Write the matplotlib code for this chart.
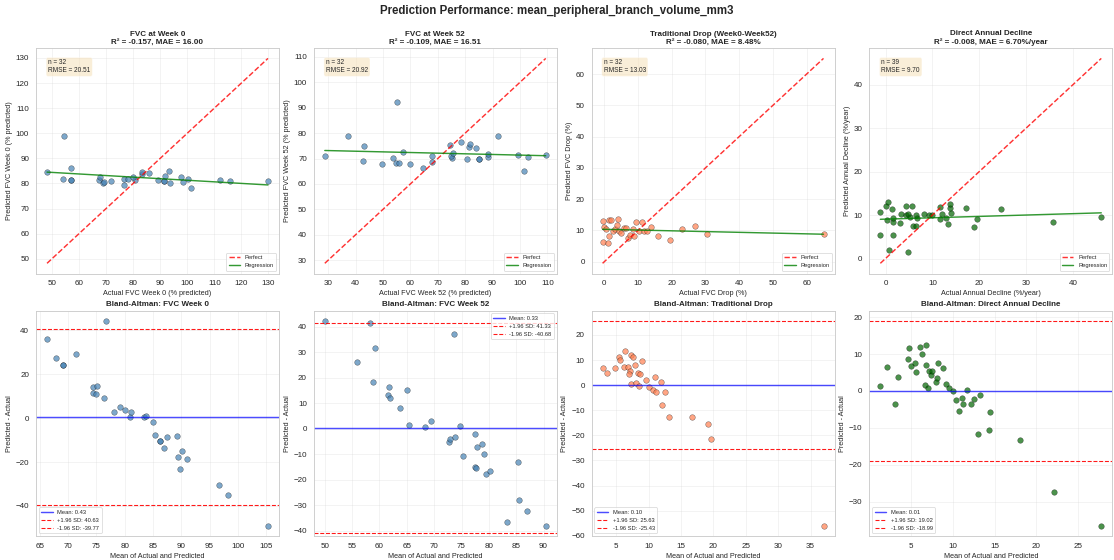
import numpy as np
import matplotlib
matplotlib.use('Agg')
import matplotlib.pyplot as plt
import seaborn as sns

# values
wk0_actual = [48.2, 54.0, 57.0, 57.0, 56.9, 54.5, 67.5, 67.8, 68.7, 69.4, 71.9, 76.8, 76.7, 78.2, 80.6, 79.8,
              83.2, 83.2, 85.8, 89.1, 91.4, 91.4, 91.8, 93.8, 93.3, 98.3, 97.5, 101.4, 100.3, 112.0, 115.7, 129.8]
wk0_pred = [84.4, 81.6, 81.4, 81.4, 86.1, 98.9, 81.5, 82.6, 80.3, 80.6, 80.9, 79.4, 81.7, 81.9, 81.2, 82.4,
            83.8, 84.4, 84.2, 81.5, 81.0, 81.0, 83.0, 80.2, 85.1, 80.7, 82.7, 78.2, 81.7, 81.4, 80.9, 80.8]

wk52_actual = [28.8, 37.4, 55.0, 42.7, 43.2, 49.8, 53.5, 54.8, 55.9, 57.4, 59.8, 64.6, 68.0, 68.0, 74.3, 75.2,
               74.8, 75.4, 78.4, 80.6, 85.0, 85.2, 81.4, 81.6, 84.0, 88.4, 88.5, 91.9, 99.4, 103.0, 101.6, 109.4]
wk52_pred = [71.2, 79.0, 92.4, 68.9, 75.0, 68.0, 70.1, 68.2, 68.1, 72.6, 67.8, 66.2, 68.8, 70.9, 75.3, 70.2,
             71.0, 72.2, 76.4, 70.0, 69.9, 70.0, 74.4, 75.8, 74.2, 70.6, 71.9, 78.7, 71.6, 70.8, 65.0, 71.4]

drop_actual = [-0.5, 1.2, 1.4, -0.2, 0.6, 2.6, -0.4, 3.3, 4.3, 4.9, 1.3, 2.0, 3.8, 7.1, 7.6, 8.7,
               5.9, 6.4, 4.1, 8.6, 10.4, 11.7, 9.4, 12.6, 11.2, 13.9, 16.0, 19.5, 23.0, 26.9, 30.4, 65.0]
drop_pred = [6.3, 6.1, 8.2, 11.1, 10.6, 9.8, 13.1, 10.5, 9.9, 9.2, 13.3, 13.2, 11.9, 7.6, 8.5, 8.2,
             10.8, 10.9, 13.8, 10.6, 9.8, 9.7, 12.6, 9.8, 12.6, 11.1, 8.1, 6.9, 10.4, 11.5, 9.0, 9.0]

annual_actual = [0.7, -1.1, 4.9, 1.6, 0.3, -1.1, 1.7, 1.7, 3.0, 0.1, 1.4, 0.6, 3.3, 5.8, 6.6, 4.4, 5.2, 4.8, 6.8,
                 6.4, 4.4, 5.7, 8.2, 9.2, 10.0, 11.6, 13.4, 12.0, 13.0, 11.6, 14.0, 13.7, 13.8, 18.8, 19.6,
                 17.2, 24.6, 35.8, 46.0]
annual_pred = [2.0, 5.3, 1.4, 5.4, 8.9, 10.6, 8.4, 9.3, 8.1, 12.1, 11.3, 13.0, 10.3, 7.5, 7.4, 9.9, 9.6, 10.2, 9.3,
               9.9, 12.1, 12.0, 10.2, 10.0, 10.0, 9.2, 8.0, 10.2, 9.4, 11.8, 10.4, 11.5, 12.6, 7.2, 9.0,
               11.6, 11.4, 8.4, 9.5]

r2 = [-0.157, -0.109, -0.080, -0.008]
mae = ['16.00', '16.51', '8.48%', '6.70%/year']
rmse = [20.51, 20.92, 13.03, 9.70]
ba_mean = [0.43, 0.33, 0.10, 0.01]
ba_upper = [40.63, 41.33, 25.63, 19.02]
ba_lower = [-39.77, -40.68, -25.43, -18.99]

titles = ['FVC at Week 0', 'FVC at Week 52', 'Traditional Drop (Week0-Week52)', 'Direct Annual Decline']
ba_titles = ['FVC Week 0', 'FVC Week 52', 'Traditional Drop', 'Direct Annual Decline']
xlabels = ['Actual FVC Week 0 (% predicted)', 'Actual FVC Week 52 (% predicted)',
           'Actual FVC Drop (%)', 'Actual Annual Decline (%/year)']
ylabels = ['Predicted FVC Week 0 (% predicted)', 'Predicted FVC Week 52 (% predicted)',
           'Predicted FVC Drop (%)', 'Predicted Annual Decline (%/year)']

actuals = [wk0_actual, wk52_actual, drop_actual, annual_actual]
preds = [wk0_pred, wk52_pred, drop_pred, annual_pred]
colors = ['steelblue', 'steelblue', 'coral', 'darkgreen']
ba_leg_loc = ['lower left', 'upper right', 'lower left', 'lower left']

sns.set_theme(style='whitegrid')
plt.rcParams['font.family'] = ['Liberation Sans', 'DejaVu Sans']

fig, axes = plt.subplots(2, 4, figsize=(1114 / 52, 560 / 52), dpi=52)
fig.subplots_adjust(left=0.0323, right=0.9985, top=0.914, bottom=0.043, wspace=0.143, hspace=0.164)

for i in range(4):
    a = np.array(actuals[i])
    p = np.array(preds[i])

    # predicted vs actual
    ax = axes[0, i]
    ax.scatter(a, p, s=60, alpha=0.7, color=colors[i], edgecolors='black', linewidth=0.5)
    lo = min(a.min(), p.min())
    hi = max(a.max(), p.max())
    ax.plot([lo, hi], [lo, hi], color='red', ls='--', lw=2, alpha=0.8, label='Perfect')
    k, b = np.polyfit(a, p, 1)
    xs = np.array([a.min(), a.max()])
    ax.plot(xs, k * xs + b, color='green', lw=2, alpha=0.8, label='Regression')
    ax.set_xlabel(xlabels[i], fontsize=10)
    ax.set_ylabel(ylabels[i], fontsize=10)
    ax.set_title(f'{titles[i]}\nR² = {r2[i]:.3f}, MAE = {mae[i]}', fontsize=11, fontweight='bold')
    ax.legend(loc='lower right', fontsize=8)
    ax.grid(True, alpha=0.3)
    ax.text(0.05, 0.95, f'n = {len(a)}\nRMSE = {rmse[i]:.2f}', transform=ax.transAxes,
            fontsize=9, va='top', bbox=dict(boxstyle='round', facecolor='wheat', alpha=0.5))

    # Bland-Altman
    ax = axes[1, i]
    m = (a + p) / 2
    d = p - a
    ax.scatter(m, d, s=60, alpha=0.7, color=colors[i], edgecolors='black', linewidth=0.5)
    ax.axhline(ba_mean[i], color='blue', lw=2, alpha=0.7, label=f'Mean: {ba_mean[i]:.2f}')
    ax.axhline(ba_upper[i], color='red', ls='--', lw=1.5, alpha=0.9, label=f'+1.96 SD: {ba_upper[i]:.2f}')
    ax.axhline(ba_lower[i], color='red', ls='--', lw=1.5, alpha=0.9, label=f'-1.96 SD: {ba_lower[i]:.2f}')
    ax.set_xlabel('Mean of Actual and Predicted', fontsize=10)
    ax.set_ylabel('Predicted - Actual', fontsize=10)
    ax.set_title(f'Bland-Altman: {ba_titles[i]}', fontsize=11, fontweight='bold')
    ax.legend(loc=ba_leg_loc[i], fontsize=8)
    ax.grid(True, alpha=0.3)

fig.suptitle('Prediction Performance: mean_peripheral_branch_volume_mm3', fontsize=16, fontweight='bold', y=0.991)
plt.savefig('out.png', dpi=52)
